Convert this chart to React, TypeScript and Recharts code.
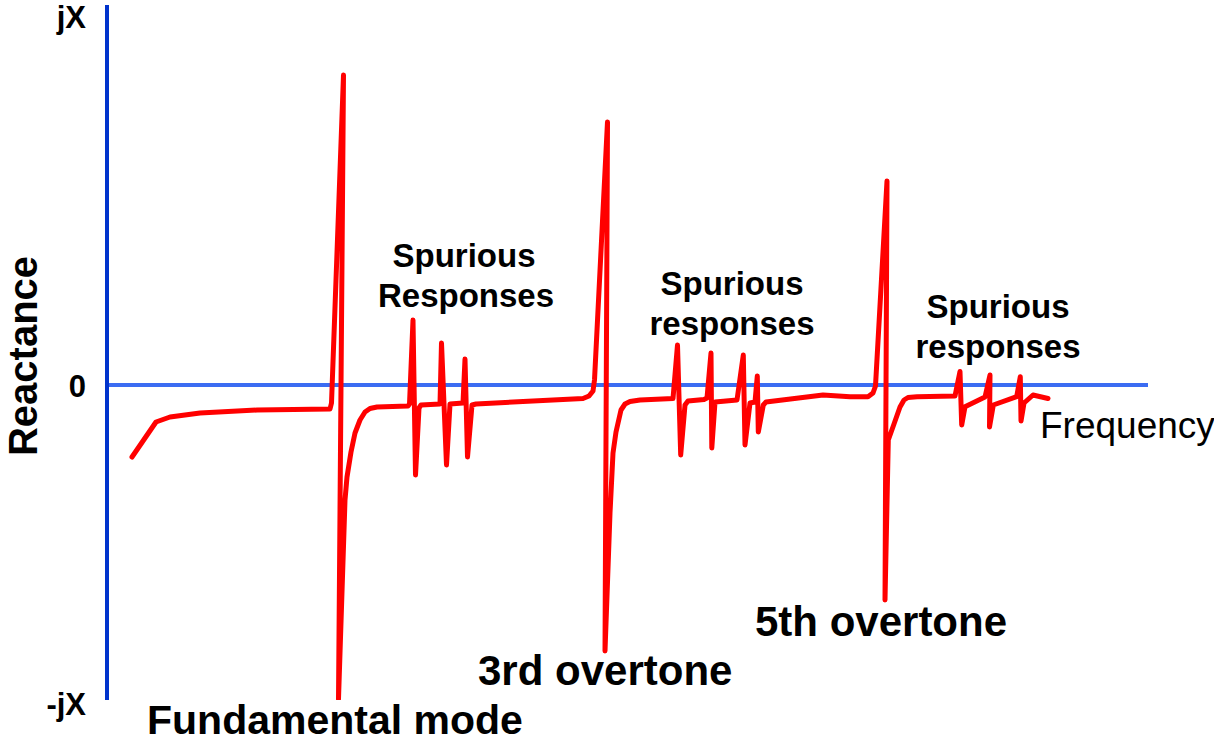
import React from 'react';
import { LineChart, Line, XAxis, YAxis } from 'recharts';

// Frequency (arbitrary units along the horizontal axis)
const frequency = [
  132, 156, 170, 200, 257, 330, 331.5, 343.5, 338.5, 345, 347, 351, 355, 360, 365, 370, 377, 408,
  409.5, 413, 415.5, 419, 421, 440, 441.5, 446.5, 450, 463, 465, 467.5, 472, 476,
  583, 589, 593, 594.5, 607.5, 605, 610, 613, 616, 621, 625, 630, 640, 673,
  677.5, 680.7, 685, 688, 704, 707, 711, 711.8, 715, 737, 743.3, 745, 750, 755, 757.3, 758.3, 763.3, 766,
  823, 850, 868, 873, 875.5, 887, 885, 888.3, 894, 900, 904, 908, 917,
  955, 960, 961.7, 965, 985, 990, 989.5, 993.3, 1016.7, 1020.3, 1021, 1024, 1033, 1048,
];

// Reactance (arbitrary units, + = inductive jX, - = capacitive -jX)
const reactance = [
  -72, -37, -32, -28, -25, -24, -18, 310, -314, -115, -92, -67, -48, -35, -27, -23.5, -22, -21,
  -19, 65, -90, -23, -20, -19, 42, -80, -19, -18, 26, -72, -20, -19,
  -13.5, -11, -6, 5, 263, -266, -128, -68, -47, -25, -19, -16.5, -15, -13.5,
  40, -70, -20, -16, -14.5, -13, 32, -63, -17, -15, 30, -60, -18, -17, 9, -47, -20, -17,
  -10, -11.7, -11.7, -8, -1, 204, -215, -55, -39, -22, -15, -12.5, -11.7,
  -11, 13.5, -40, -21.7, -12, 10, -42, -20, -11.7, 8.3, -36, -18, -10, -13.5,
];

const freqRange = [107, 1150];
const reactRange = [-315, 380];
const zeroFreq = [107, 1148];

const yTickValues = [380, 0, -315];
const yTickLabels = ['jX', '0', '-jX'];

const data = frequency.map((f, i) => ({ f, x: reactance[i] }));
const zeroLine = zeroFreq.map((f) => ({ f, x: 0 }));

const FONT = '"Liberation Sans", Arial, sans-serif';

const tickDy: Record<string, number> = { '380': 23, '0': 12, '-315': 15 };

const YTick = (props: any) => {
  const { x, y, payload } = props;
  const idx = yTickValues.indexOf(payload.value);
  const label = idx >= 0 ? yTickLabels[idx] : '';
  return (
    <text
      x={x - 21}
      y={y + (tickDy[String(payload.value)] ?? 0)}
      textAnchor="end"
      fontFamily={FONT}
      fontWeight="bold"
      fontSize={31}
      fill="#000"
    >
      {label}
    </text>
  );
};

const boldText = { fontFamily: FONT, fontWeight: 'bold' as const, fill: '#000' };

export default function App() {
  return (
    <div style={{ position: 'absolute', left: 0, top: 0, width: 1214, height: 743, background: '#fff' }}>
      <LineChart
        width={1214}
        height={743}
        margin={{ top: 5, right: 64, bottom: 43, left: 7 }}
      >
        <XAxis
          type="number"
          dataKey="f"
          domain={freqRange}
          allowDataOverflow
          hide
        />
        <YAxis
          type="number"
          domain={reactRange}
          allowDataOverflow
          ticks={yTickValues}
          interval={0}
          width={100}
          tickSize={0}
          tickMargin={0}
          tickLine={false}
          axisLine={{ stroke: '#0033cc', strokeWidth: 4 }}
          tick={<YTick />}
        />
        <Line
          data={zeroLine}
          dataKey="x"
          stroke="#3b6cf2"
          strokeWidth={4}
          dot={false}
          activeDot={false}
          isAnimationActive={false}
          type="linear"
        />
        <Line
          data={data}
          dataKey="x"
          stroke="#ff0000"
          strokeWidth={5}
          strokeLinejoin="round"
          strokeLinecap="round"
          dot={false}
          activeDot={false}
          isAnimationActive={false}
          type="linear"
        />
        <text x={37} y={356} transform="rotate(-90, 37, 356)" textAnchor="middle" fontSize={40} {...boldText}>
          Reactance
        </text>
        <text x={464} y={267} textAnchor="middle" fontSize={33} {...boldText}>Spurious</text>
        <text x={466} y={307} textAnchor="middle" fontSize={33} {...boldText}>Responses</text>
        <text x={732} y={295} textAnchor="middle" fontSize={33} {...boldText}>Spurious</text>
        <text x={732} y={335} textAnchor="middle" fontSize={33} {...boldText}>responses</text>
        <text x={998} y={318} textAnchor="middle" fontSize={33} {...boldText}>Spurious</text>
        <text x={998} y={358} textAnchor="middle" fontSize={33} {...boldText}>responses</text>
        <text x={147} y={734} textAnchor="start" fontSize={41} {...boldText}>Fundamental mode</text>
        <text x={478} y={685} textAnchor="start" fontSize={42} {...boldText}>3rd overtone</text>
        <text x={755} y={636} textAnchor="start" fontSize={42} {...boldText}>5th overtone</text>
        <text x={1040} y={438} textAnchor="start" fontSize={37} fontFamily={FONT} fill="#000">Frequency</text>
      </LineChart>
    </div>
  );
}
